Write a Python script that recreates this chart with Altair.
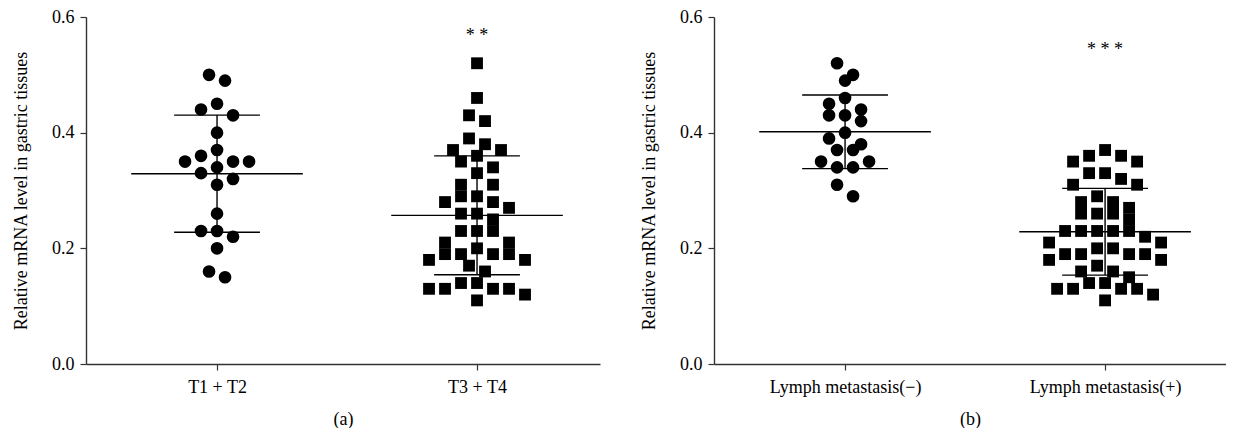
import altair as alt
import pandas as pd
import numpy as np

# ---------------- data ----------------
t12_values = [0.50, 0.49, 0.45, 0.44, 0.43, 0.40, 0.37, 0.36, 0.35, 0.35, 0.35,
              0.34, 0.33, 0.32, 0.31, 0.26, 0.23, 0.23, 0.22, 0.20, 0.16, 0.15]
t34_values = [0.52, 0.46, 0.43, 0.42, 0.39, 0.38, 0.37, 0.37, 0.36, 0.35, 0.34,
              0.33, 0.31, 0.31, 0.29, 0.29, 0.28, 0.28, 0.27, 0.26, 0.26, 0.25,
              0.23, 0.23, 0.23, 0.21, 0.21, 0.20, 0.19, 0.19, 0.19, 0.19, 0.18,
              0.18, 0.17, 0.16, 0.14, 0.14, 0.13, 0.13, 0.13, 0.13, 0.12, 0.11]
lymph_neg_values = [0.52, 0.50, 0.49, 0.46, 0.45, 0.44, 0.43, 0.43, 0.42, 0.40,
                    0.39, 0.38, 0.37, 0.37, 0.35, 0.35, 0.34, 0.34, 0.31, 0.29]
lymph_pos_values = [0.37, 0.36, 0.36, 0.35, 0.35, 0.33, 0.33, 0.32, 0.31, 0.31,
                    0.29, 0.28, 0.28, 0.27, 0.26, 0.26, 0.26, 0.25, 0.23, 0.23,
                    0.23, 0.23, 0.23, 0.22, 0.21, 0.21, 0.20, 0.20, 0.19, 0.19,
                    0.19, 0.19, 0.18, 0.18, 0.17, 0.16, 0.16, 0.15, 0.14, 0.14,
                    0.13, 0.13, 0.13, 0.13, 0.12, 0.11]

panel_a_categories = ["T1 + T2", "T3 + T4"]
panel_b_categories = ["Lymph metastasis(\u2212)", "Lymph metastasis(+)"]
panel_letters = ["(a)", "(b)"]
significance = ["* *", "* * *"]
significance_level = [0.567, 0.543]
y_title = "Relative mRNA level in gastric tissues"
y_ticks = [0.0, 0.2, 0.4, 0.6]

FONT = "Liberation Serif"
FS = 18
PLOT_H = 347
Y_MAX = 0.6
PX_PER_UNIT_Y = PLOT_H / Y_MAX


def swarm_offsets(values, row_px=12.0, step_px=16.0):
    """Prism-like row swarm: points within one marker height share a row,
    spread symmetrically around the centre line."""
    order = sorted(range(len(values)), key=lambda i: -values[i])
    offsets = [0.0] * len(values)
    rows, cur, start = [], [], None
    for i in order:
        ypx = values[i] * PX_PER_UNIT_Y
        if start is None or abs(start - ypx) >= row_px:
            if cur:
                rows.append(cur)
            cur, start = [i], ypx
        else:
            cur.append(i)
    if cur:
        rows.append(cur)
    for row in rows:
        n = len(row)
        slots = [(k - (n - 1) / 2.0) * step_px for k in range(n)]
        slots.sort(key=lambda s: (abs(s), s))
        for i, s in zip(row, slots):
            offsets[i] = s
    return offsets


def panel(categories, groups, shapes, letter, sig_text, sig_y, width, domain):
    px_per_unit_x = width / (domain[1] - domain[0])
    rows = []
    stats = []
    for g, (vals, shp) in enumerate(zip(groups, shapes)):
        offs = swarm_offsets(vals)
        for v, o in zip(vals, offs):
            rows.append({"g": g, "x": g + o / px_per_unit_x, "v": v, "shape": shp})
        arr = np.array(vals)
        m, sd = arr.mean(), arr.std(ddof=1)
        stats.append({"g": g, "mean": m, "lo": m - sd, "hi": m + sd,
                      "mx1": g - 0.33, "mx2": g + 0.33,
                      "sx1": g - 0.165, "sx2": g + 0.165})
    pts = pd.DataFrame(rows)
    st = pd.DataFrame(stats)
    sig = pd.DataFrame({"g": [1], "y": [sig_y], "t": [sig_text]})

    label_expr = "datum.value == 0 ? '%s' : '%s'" % (categories[0], categories[1])
    xscale = alt.Scale(domain=domain, nice=False, zero=False)
    yscale = alt.Scale(domain=[0, Y_MAX], nice=False)
    xaxis = alt.Axis(values=[0, 1], labelExpr=label_expr, title=letter,
                     grid=False, tickSize=6, labelPadding=8, titlePadding=14,
                     labelFont=FONT, titleFont=FONT, labelFontSize=FS, titleFontSize=FS,
                     titleFontWeight="normal", labelColor="black", titleColor="black")
    yaxis = alt.Axis(values=y_ticks, format=".1f", title=y_title, grid=False,
                     tickSize=6, labelPadding=6, titlePadding=21,
                     labelFont=FONT, titleFont=FONT, labelFontSize=FS, titleFontSize=FS,
                     titleFontWeight="normal", labelColor="black", titleColor="black")

    points = alt.Chart(pts).mark_point(filled=True, opacity=1, color="black").encode(
        x=alt.X("x:Q", scale=xscale, axis=xaxis),
        y=alt.Y("v:Q", scale=yscale, axis=yaxis),
        shape=alt.Shape("shape:N", scale=alt.Scale(domain=["circle", "square"],
                                                   range=["circle", "square"]), legend=None),
        size=alt.Size("shape:N", scale=alt.Scale(domain=["circle", "square"],
                                                 range=[160, 140]), legend=None),
    )
    mean_rule = alt.Chart(st).mark_rule(color="black", strokeWidth=1.4).encode(
        x=alt.X("mx1:Q", scale=xscale), x2="mx2:Q", y=alt.Y("mean:Q", scale=yscale))
    sd_hi = alt.Chart(st).mark_rule(color="black", strokeWidth=1.4).encode(
        x=alt.X("sx1:Q", scale=xscale), x2="sx2:Q", y=alt.Y("hi:Q", scale=yscale))
    sd_lo = alt.Chart(st).mark_rule(color="black", strokeWidth=1.4).encode(
        x=alt.X("sx1:Q", scale=xscale), x2="sx2:Q", y=alt.Y("lo:Q", scale=yscale))
    sd_v = alt.Chart(st).mark_rule(color="black", strokeWidth=1.4).encode(
        x=alt.X("g:Q", scale=xscale), y=alt.Y("lo:Q", scale=yscale), y2="hi:Q")
    stars = alt.Chart(sig).mark_text(font=FONT, fontSize=FS, color="black").encode(
        x=alt.X("g:Q", scale=xscale), y=alt.Y("y:Q", scale=yscale), text="t:N")
    return alt.layer(points, mean_rule, sd_hi, sd_lo, sd_v, stars).properties(
        width=width, height=PLOT_H)


left = panel(panel_a_categories, [t12_values, t34_values], ["circle", "square"],
             panel_letters[0], significance[0], significance_level[0], 514, [-0.504, 1.473])
right = panel(panel_b_categories, [lymph_neg_values, lymph_pos_values], ["circle", "square"],
              panel_letters[1], significance[1], significance_level[1], 512, [-0.504, 1.465])

chart = alt.hconcat(left, right, spacing=40).configure(
    padding={"left": 4, "top": 0, "right": 0, "bottom": 0}).configure_view(
    stroke=None).configure_axis(
    labelFont=FONT, titleFont=FONT, labelFontSize=FS, titleFontSize=FS,
    titleFontWeight="normal", labelColor="black", titleColor="black",
    domainColor="#333", tickColor="#333", domainWidth=1.4, tickWidth=1.2)

chart.save("out.html", embed_options={"renderer": "svg", "actions": False})
